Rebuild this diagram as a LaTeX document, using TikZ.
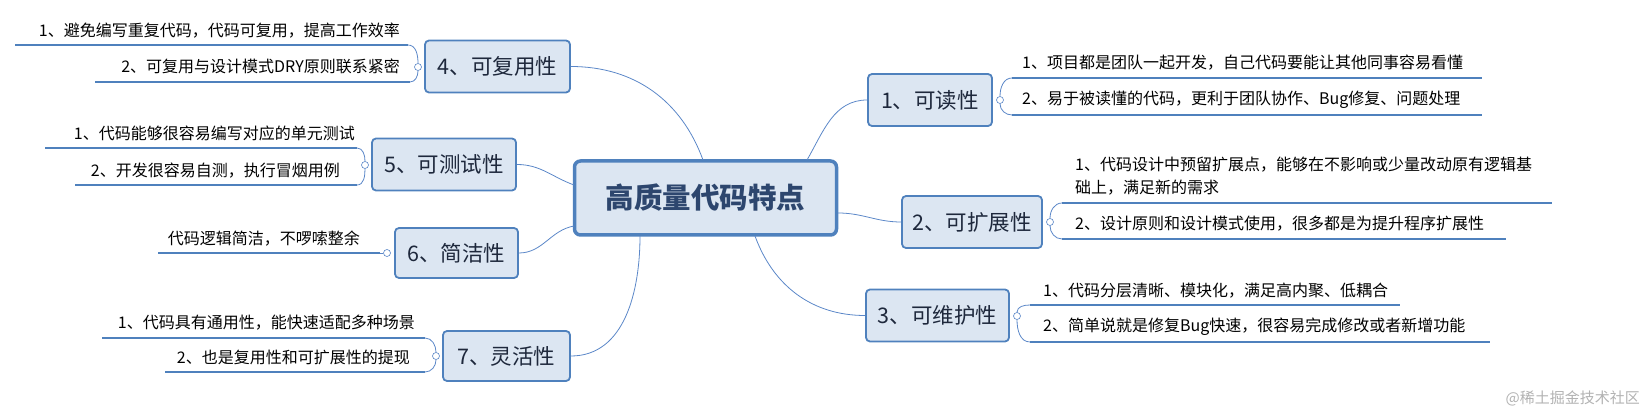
\documentclass[tikz,border=0pt]{standalone}
\usepackage{fontspec}
\setmainfont{Noto Sans CJK SC}
\begin{document}
\begin{tikzpicture}[x=1pt,y=-1pt,
  conn/.style={draw={rgb,255:red,91;green,135;blue,200},line width=0.8pt},
  bar/.style={draw={rgb,255:red,79;green,129;blue,189},line width=2.8pt},
  brk/.style={draw={rgb,255:red,91;green,135;blue,200},line width=0.8pt},
  knob/.style={circle,draw={rgb,255:red,91;green,135;blue,200},fill=white,inner sep=0pt,minimum size=7pt,line width=0.6pt},
  branch/.style={draw={rgb,255:red,79;green,129;blue,189},fill={rgb,255:red,220;green,230;blue,242},line width=1.8pt,rounded corners=4pt,font=\fontsize{21.5}{24}\selectfont,text={rgb,255:red,30;green,40;blue,60},inner sep=0pt},
  leaf/.style={anchor=west,inner sep=0pt,font=\fontsize{16}{23}\selectfont,align=left},
]
\useasboundingbox (0,0) rectangle (1649,414);
% center
\node[draw={rgb,255:red,79;green,129;blue,189},fill={rgb,255:red,220;green,230;blue,242},line width=3.5pt,rounded corners=6pt,minimum width=262pt,minimum height=74pt,font=\fontsize{28.5}{32}\selectfont\bfseries,text={rgb,255:red,45;green,70;blue,110}] (c) at (705.5,198) {高质量代码特点};
% branches
\node[branch,minimum width=124pt,minimum height=52pt] (b1) at (930,100) {1、可读性};
\node[branch,minimum width=140pt,minimum height=52pt] (b2) at (972,222) {2、可扩展性};
\node[branch,minimum width=143pt,minimum height=52pt] (b3) at (937.5,315.5) {3、可维护性};
\node[branch,minimum width=145pt,minimum height=52pt] (b4) at (497.5,66.5) {4、可复用性};
\node[branch,minimum width=144pt,minimum height=52pt] (b5) at (444,164.5) {5、可测试性};
\node[branch,minimum width=123pt,minimum height=50pt] (b6) at (456.5,253) {6、简洁性};
\node[branch,minimum width=127pt,minimum height=50pt] (b7) at (506.5,356) {7、灵活性};
% connectors
\draw[conn] (807,160) coordinate (c1) to[out=60,in=180] (b1.west);
\draw[conn] (838,213) coordinate (c2) to[out=0,in=180] (b2.west);
\draw[conn] (755,236) coordinate (c3) to[out=-70,in=180] (b3.west);
\draw[conn] (703,160) coordinate (c4) to[out=110,in=0] (b4.east);
\draw[conn] (574,185) coordinate (c5) to[out=160,in=0] (b5.east);
\draw[conn] (574,226) coordinate (c6) to[out=190,in=0] (b6.east);
\draw[conn] (640,236) coordinate (c7) to[out=-90,in=0] (b7.east);
% right leaves
\node[leaf] (r1a) at (1022,63) {1、项目都是团队一起开发，自己代码要能让其他同事容易看懂};
\node[leaf] (r1b) at (1022,100) {2、易于被读懂的代码，更利于团队协作、Bug修复、问题处理};
\draw[bar] (1012,78) coordinate (u1a) -- (1482,78);
\draw[bar] (1012,115) coordinate (u1b) -- (1482,115);
\node[knob] (k1) at (1000,100) {};
\draw[brk] (k1) to[out=90,in=180] (u1a);
\draw[brk] (k1) to[out=-90,in=180] (u1b);

\node[leaf] (r2a) at (1075,176) {1、代码设计中预留扩展点，能够在不影响或少量改动原有逻辑基\\础上，满足新的需求};
\node[leaf] (r2b) at (1075,224) {2、设计原则和设计模式使用，很多都是为提升程序扩展性};
\draw[bar] (1062,203) coordinate (u2a) -- (1552,203);
\draw[bar] (1062,239) coordinate (u2b) -- (1506,239);
\node[knob] (k2) at (1050,222) {};
\draw[brk] (k2) to[out=90,in=180] (u2a);
\draw[brk] (k2) to[out=-90,in=180] (u2b);

\node[leaf] (r3a) at (1043,291) {1、代码分层清晰、模块化，满足高内聚、低耦合};
\node[leaf] (r3b) at (1043,327) {2、简单说就是修复Bug快速，很容易完成修改或者新增功能};
\draw[bar] (1030,305) coordinate (u3a) -- (1400,305);
\draw[bar] (1030,342) coordinate (u3b) -- (1490,342);
\node[knob] (k3) at (1017,316) {};
\draw[brk] (k3) to[out=90,in=180] (u3a);
\draw[brk] (k3) to[out=-90,in=180] (u3b);
% left leaves
\node[leaf,anchor=east] (l4a) at (400,31) {1、避免编写重复代码，代码可复用，提高工作效率};
\node[leaf,anchor=east] (l4b) at (400,66) {2、可复用与设计模式DRY原则联系紧密};
\draw[bar] (15,45) -- (408,45) coordinate (u4a);
\draw[bar] (95,82) -- (410,82) coordinate (u4b);
\node[knob] (k4) at (418,67) {};
\draw[brk] (k4) to[out=90,in=0] (u4a);
\draw[brk] (k4) to[out=-90,in=0] (u4b);

\node[leaf,anchor=east] (l5a) at (355,133) {1、代码能够很容易编写对应的单元测试};
\node[leaf,anchor=east] (l5b) at (340,171) {2、开发很容易自测，执行冒烟用例};
\draw[bar] (45,148) -- (357,148) coordinate (u5a);
\draw[bar] (75,185) -- (357,185) coordinate (u5b);
\node[knob] (k5) at (365,165) {};
\draw[brk] (k5) to[out=90,in=0] (u5a);
\draw[brk] (k5) to[out=-90,in=0] (u5b);

\node[leaf,anchor=east] (l6a) at (360,239) {代码逻辑简洁，不啰嗦整余};
\draw[bar] (158,253) -- (380,253) coordinate (u6a);
\node[knob] (k6) at (387,253) {};
\draw[brk] (k6) -- (u6a);

\node[leaf,anchor=east] (l7a) at (415,323) {1、代码具有通用性，能快速适配多种场景};
\node[leaf,anchor=east] (l7b) at (410,357) {2、也是复用性和可扩展性的提现};
\draw[bar] (102,338) -- (425,338) coordinate (u7a);
\draw[bar] (165,372) -- (425,372) coordinate (u7b);
\node[knob] (k7) at (436,356) {};
\draw[brk] (k7) to[out=90,in=0] (u7a);
\draw[brk] (k7) to[out=-90,in=0] (u7b);
% watermark
\node[anchor=east,inner sep=0pt,font=\fontsize{15}{18}\selectfont,text=black!30] (wm) at (1640,398) {@稀土掘金技术社区};
\end{tikzpicture}
\end{document}
